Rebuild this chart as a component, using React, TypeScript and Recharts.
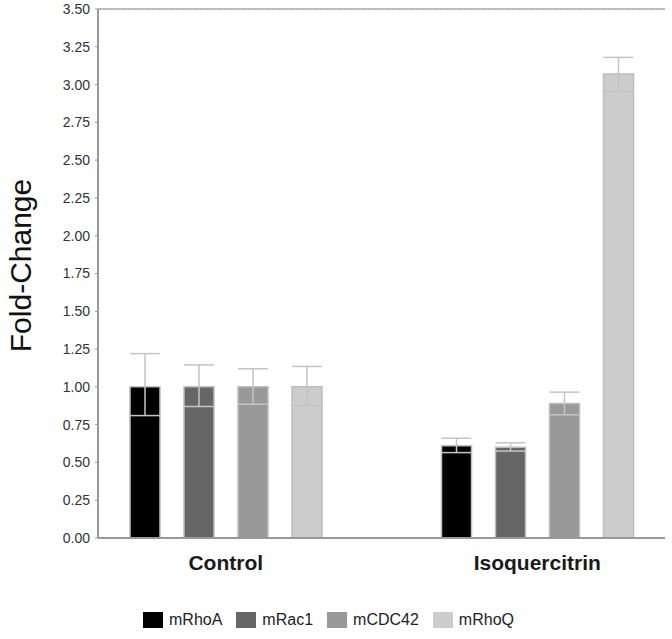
import React from 'react';
import { BarChart, Bar, XAxis, YAxis, CartesianGrid, ErrorBar, ReferenceLine, Legend, Label } from 'recharts';

const categories = ['Control', 'Isoquercitrin'];
const seriesNames = ['mRhoA', 'mRac1', 'mCDC42', 'mRhoQ'];
const seriesColors = ['#000000', '#666666', '#999999', '#cccccc'];
const mRhoA = [1.0, 0.61];
const mRac1 = [1.0, 0.60];
const mCDC42 = [1.0, 0.89];
const mRhoQ = [1.0, 3.07];
// [down, up] error extents
const mRhoAErr = [[0.19, 0.22], [0.045, 0.05]];
const mRac1Err = [[0.13, 0.145], [0.025, 0.03]];
const mCDC42Err = [[0.115, 0.12], [0.075, 0.075]];
const mRhoQErr = [[0.125, 0.135], [0.115, 0.11]];
const yTicks = [0, 0.25, 0.5, 0.75, 1, 1.25, 1.5, 1.75, 2, 2.25, 2.5, 2.75, 3, 3.25, 3.5];

const values = [mRhoA, mRac1, mCDC42, mRhoQ];
const errs = [mRhoAErr, mRac1Err, mCDC42Err, mRhoQErr];

const data = categories.map((c, i) => {
  const row: any = { name: c };
  seriesNames.forEach((s, k) => {
    row[s] = values[k][i];
    row[s + '_err'] = errs[k][i];
  });
  return row;
});

const FONT = '"Liberation Sans", Arial, sans-serif';

const LegendContent = () => (
  <div style={{ display: 'flex', justifyContent: 'flex-start', paddingLeft: 143, fontFamily: FONT, fontSize: 16, color: '#222', height: 16, lineHeight: '16px' }}>
    {seriesNames.map((s, k) => (
      <div key={s} style={{ display: 'flex', alignItems: 'center', marginRight: k < seriesNames.length - 1 ? 14 : 0 }}>
        <div style={{ width: 20, height: 16, background: seriesColors[k], marginRight: 6 }} />
        <span>{s}</span>
      </div>
    ))}
  </div>
);

export default function App() {
  return (
    <div style={{ position: 'absolute', top: 0, left: 0, width: 672, height: 639, background: '#fff' }}>
      <BarChart
        width={672}
        height={639}
        data={data}
        margin={{ top: 9, right: 7, bottom: 55, left: 0 }}
        barSize={30}
        barGap={24}
      >
        <CartesianGrid vertical={false} stroke="#d4d4d4" strokeDasharray="3 3" />
        <XAxis
          dataKey="name"
          height={30}
          padding={{ left: -28, right: -28 }}
          axisLine={{ stroke: '#999', strokeWidth: 2 }}
          tickLine={false}
          tickMargin={11}
          tick={{ fontFamily: FONT, fontSize: 21, fontWeight: 'bold', fill: '#1a1a1a' }}
        />
        <YAxis
          yAxisId="left"
          width={98}
          domain={[0, 3.5]}
          ticks={yTicks}
          interval={0}
          tickFormatter={(v: number) => v.toFixed(2)}
          axisLine={{ stroke: '#999', strokeWidth: 2 }}
          tickLine={{ stroke: '#999' }}
          tickSize={3}
          tickMargin={5}
          tick={{ fontFamily: FONT, fontSize: 14, fill: '#333' }}
        >
          <Label
            content={(props: any) => {
              const vb = props.viewBox;
              const x = vb.x + 20;
              const y = vb.y + vb.height / 2 - 8;
              return (
                <text
                  x={x}
                  y={y}
                  transform={`rotate(-90, ${x}, ${y})`}
                  textAnchor="middle"
                  dominantBaseline="central"
                  fontFamily={FONT}
                  fontSize={30}
                  fill="#111"
                >
                  Fold-Change
                </text>
              );
            }}
          />
        </YAxis>
        <YAxis
          yAxisId="right"
          orientation="right"
          width={0}
          domain={[0, 3.5]}
          tick={false}
          tickLine={false}
          axisLine={{ stroke: '#aaa', strokeWidth: 1.5 }}
        />
        <ReferenceLine yAxisId="left" y={3.5} stroke="#aaa" strokeWidth={1.5} />
        {seriesNames.map((s, k) => (
          <Bar
            key={s}
            yAxisId="left"
            dataKey={s}
            fill={seriesColors[k]}
            stroke="#bdbdbd"
            strokeWidth={1.5}
            isAnimationActive={false}
          >
            <ErrorBar dataKey={s + '_err'} width={15} stroke="#c4c4c4" strokeWidth={1.5} direction="y" />
          </Bar>
        ))}
        <Legend content={<LegendContent />} wrapperStyle={{ top: 612, left: 0, width: 672, height: 16 }} />
      </BarChart>
    </div>
  );
}
